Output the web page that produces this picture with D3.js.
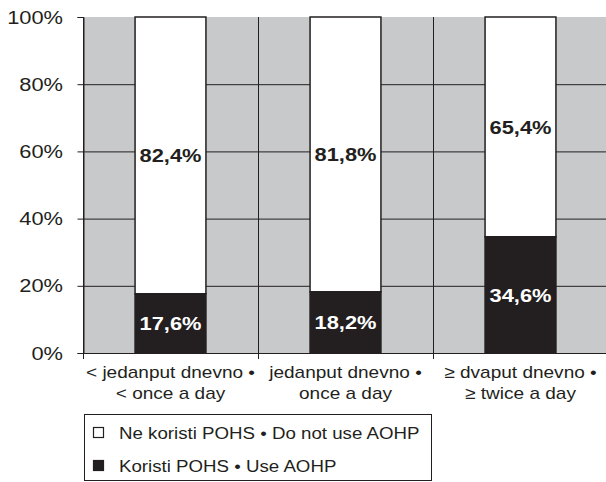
<!DOCTYPE html>
<html>
<head>
<meta charset="utf-8">
<script src="https://cdn.jsdelivr.net/npm/d3@7"></script>
<style>
  body { margin: 0; background: #fff; }
  svg { display: block; font-family: "Liberation Sans", Arial, sans-serif; }
</style>
</head>
<body>
<div id="chart"></div>
<script>
// Stacked 100% bars: AOHP use by frequency
const categories = [
  ["< jedanput dnevno •", "< once a day"],
  ["jedanput dnevno •", "once a day"],
  ["≥ dvaput dnevno •", "≥ twice a day"]
];
const useValues = [17.6, 18.2, 34.6];
const notUseValues = [82.4, 81.8, 65.4];
const yTicks = [0, 20, 40, 60, 80, 100];
const legendLabels = ["Ne koristi POHS • Do not use AOHP", "Koristi POHS • Use AOHP"];

const width = 606, height = 482;
const margin = { top: 17, left: 83 };
const plotW = 525, plotH = 336;
const black = "#231f20", gray = "#c8c9cb";
// the source figure's type is a bit wider than Arial
const stretch = 1.15;

const svg = d3.select("#chart").append("svg")
  .attr("width", width).attr("height", height);

const x = d3.scaleBand().domain(d3.range(categories.length))
  .range([margin.left, margin.left + plotW]).padding(0);
const y = d3.scaleLinear().domain([0, 100])
  .range([margin.top + plotH, margin.top]);
const barW = x.bandwidth() * 0.405;

// plot background
svg.append("rect")
  .attr("x", margin.left).attr("y", y(100))
  .attr("width", plotW).attr("height", y(0) - y(100))
  .attr("fill", gray);

// horizontal gridlines
svg.append("g").selectAll("line")
  .data(yTicks.filter(d => d > 0 && d < 100))
  .enter().append("line")
  .attr("x1", margin.left).attr("x2", margin.left + plotW)
  .attr("y1", d => y(d) + 0.5).attr("y2", d => y(d) + 0.5)
  .attr("stroke", black).attr("stroke-width", 1);

// vertical category separators (extend below as ticks)
svg.append("g").selectAll("line")
  .data(d3.range(categories.length))
  .enter().append("line")
  .attr("x1", d => Math.round(x(d)) + 0.5).attr("x2", d => Math.round(x(d)) + 0.5)
  .attr("y1", y(100))
  .attr("y2", y(0) + 6)
  .attr("stroke", black).attr("stroke-width", 1);

// bars
const bars = svg.append("g").selectAll("g")
  .data(d3.range(categories.length))
  .enter().append("g");

bars.append("rect")
  .attr("x", i => x(i) + (x.bandwidth() - barW) / 2)
  .attr("y", i => y(useValues[i] + notUseValues[i]))
  .attr("width", barW)
  .attr("height", i => y(useValues[i]) - y(useValues[i] + notUseValues[i]))
  .attr("fill", "#fff").attr("stroke", black).attr("stroke-width", 1.5);

bars.append("rect")
  .attr("x", i => x(i) + (x.bandwidth() - barW) / 2)
  .attr("y", i => y(useValues[i]))
  .attr("width", barW)
  .attr("height", i => y(0) - y(useValues[i]))
  .attr("fill", black).attr("stroke", black).attr("stroke-width", 1.5);

const fmt = v => v.toFixed(1).replace(".", ",") + "%";

bars.append("text")
  .attr("transform", i => `translate(${x(i) + x.bandwidth() / 2},${y(useValues[i] + notUseValues[i] / 2)}) scale(${stretch},1)`)
  .attr("dy", "0.36em")
  .attr("text-anchor", "middle")
  .attr("font-size", 19).attr("font-weight", "bold")
  .attr("fill", black)
  .text(i => fmt(notUseValues[i]));

bars.append("text")
  .attr("transform", i => `translate(${x(i) + x.bandwidth() / 2},${y(useValues[i] / 2)}) scale(${stretch},1)`)
  .attr("dy", "0.36em")
  .attr("text-anchor", "middle")
  .attr("font-size", 19).attr("font-weight", "bold")
  .attr("fill", "#fff")
  .text(i => fmt(useValues[i]));

// y axis
const yAxis = svg.append("g")
  .attr("transform", `translate(${margin.left + 0.5},0)`)
  .call(d3.axisLeft(y).tickValues(yTicks).tickFormat(d => d + "%").tickSizeOuter(0).tickSize(6));
yAxis.select(".domain").attr("stroke", black);
yAxis.selectAll(".tick line").attr("stroke", black);
yAxis.selectAll("text")
  .attr("x", -20.5 / stretch)
  .attr("transform", `scale(${stretch},1)`)
  .attr("font-size", 19).attr("fill", black)
  .attr("font-family", "Liberation Sans, Arial, sans-serif");

// x axis baseline
svg.append("line")
  .attr("x1", margin.left).attr("x2", margin.left + plotW)
  .attr("y1", y(0) + 0.5).attr("y2", y(0) + 0.5)
  .attr("stroke", black).attr("stroke-width", 1);

// category labels
const catText = svg.append("g").selectAll("text")
  .data(categories)
  .enter().append("text")
  .attr("transform", (d, i) => `translate(${x(i) + x.bandwidth() / 2},0) scale(1.12,1)`)
  .attr("text-anchor", "middle")
  .attr("font-size", 17).attr("fill", black);
catText.each(function (d) {
  d3.select(this).selectAll("tspan").data(d).enter().append("tspan")
    .attr("x", 0)
    .attr("y", (t, j) => 378 + j * 21.5)
    .text(t => t);
});

// legend
const legend = svg.append("g");
legend.append("rect")
  .attr("x", 84.5).attr("y", 414.5)
  .attr("width", 347).attr("height", 66)
  .attr("fill", "#fff").attr("stroke", black).attr("stroke-width", 1);

const legendFill = ["#fff", black];
const rows = legend.selectAll("g.row")
  .data(legendLabels)
  .enter().append("g").attr("class", "row")
  .attr("transform", (d, i) => `translate(0,${i * 33})`);
rows.append("rect")
  .attr("x", 93.5).attr("y", 427.5)
  .attr("width", 10).attr("height", 10)
  .attr("fill", (d, i) => legendFill[i])
  .attr("stroke", black).attr("stroke-width", 1.2);
rows.append("text")
  .attr("transform", `translate(119,439) scale(1.1,1)`)
  .attr("font-size", 17).attr("fill", black)
  .text(d => d);
</script>
</body>
</html>
